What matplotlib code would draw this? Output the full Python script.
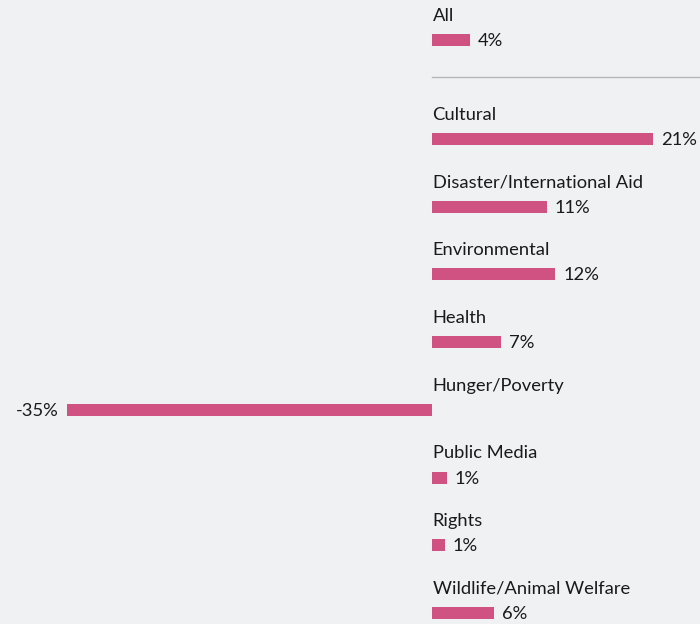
import matplotlib
matplotlib.use('Agg')
import matplotlib.pyplot as plt

# data
overall_label = 'All'
overall_value = 3.6
categories = ['Cultural', 'Disaster/International Aid', 'Environmental', 'Health',
              'Hunger/Poverty', 'Public Media', 'Rights', 'Wildlife/Animal Welfare']
values = [21.2, 11.0, 11.8, 6.6, -35.0, 1.4, 1.2, 5.9]

bar_color = '#d05283'
bg = '#f0f1f3'
plt.rcParams['font.family'] = ['Lato', 'DejaVu Sans']

fig = plt.figure(figsize=(7, 6.24), dpi=100, facecolor=bg)
ax = fig.add_axes([0, 0, 1, 1])
ax.set_facecolor(bg)

# one x unit = ~10.43 px, zero at px 432; y in pixel units
px = 10.43
ax.set_xlim(-432 / px, 268 / px)
ax.set_ylim(624, 0)

labels = [overall_label] + categories
vals = [overall_value] + values
ys = [40] + [139 + i * 67.7 for i in range(len(categories))]

ax.barh(ys, vals, height=12, color=bar_color, edgecolor='none')

fs = 13.2
for lab, v, y in zip(labels, vals, ys):
    ax.text(0.05, y - 24, lab, fontsize=fs, color='#1a1a1a', ha='left', va='center')
    txt = f'{round(v):d}%'
    if v >= 0:
        ax.text(v + 8 / px, y + 1, txt, fontsize=fs, color='#1a1a1a', ha='left', va='center')
    else:
        ax.text(v - 8 / px, y + 1, txt, fontsize=fs, color='#1a1a1a', ha='right', va='center')

ax.plot([0, 268 / px], [77, 77], color='#b5b5b5', linewidth=1)

ax.axis('off')
fig.savefig('out.png', dpi=100, facecolor=bg)
